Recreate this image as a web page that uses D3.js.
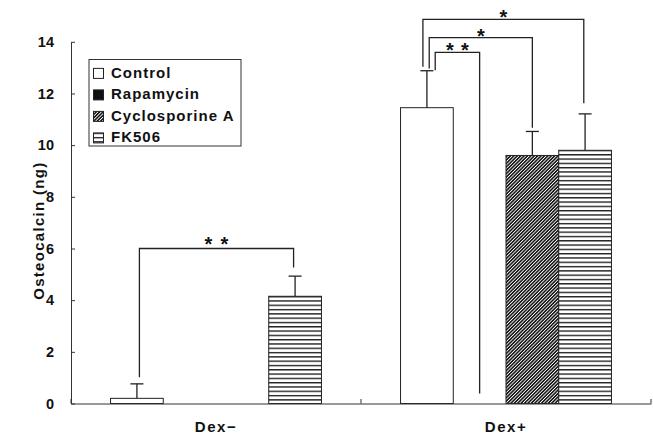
<!DOCTYPE html>
<html>
<head>
<meta charset="utf-8">
<script src="https://cdn.jsdelivr.net/npm/d3@7"></script>
<style>
  html, body { margin: 0; padding: 0; background: #fff; }
  svg { display: block; }
  text { font-family: "Liberation Sans", Arial, sans-serif; font-weight: bold; fill: #111; }
</style>
</head>
<body>
<svg id="chart" width="653" height="437"></svg>
<script>
// ---------- data ----------
const categories = ["Dex\u2212", "Dex+"];
const series = ["Control", "Rapamycin", "Cyclosporine A", "FK506"];
const dexMinusMeans = [0.2, 0, 0, 4.15];
const dexPlusMeans  = [11.45, 0, 9.6, 9.8];
const dexMinusErr   = [0.56, 0, 0, 0.78];
const dexPlusErr    = [1.43, 0, 0.93, 1.41];
const yTicks = [0, 2, 4, 6, 8, 10, 12, 14];
const yLabel = "Osteocalcin (ng)";
// significance brackets: group, from, to, bracket level, left leg end, right leg end, label
const brackets = [
  { group: "Dex\u2212", from: "Control", to: "FK506", level: 6.0,   leftEnd: 1.02,  rightEnd: 5.26,  label: "**" },
  { group: "Dex+", from: "Control", to: "FK506",           level: 14.87, leftEnd: 13.03, rightEnd: 11.62, label: "*" },
  { group: "Dex+", from: "Control", to: "Cyclosporine A",  level: 14.16, leftEnd: 12.97, rightEnd: 10.67, label: "*" },
  { group: "Dex+", from: "Control", to: "Rapamycin",       level: 13.59, leftEnd: 12.9,  rightEnd: 0.39,  label: "**" }
];

const rows = [
  { cat: categories[0], means: dexMinusMeans, errs: dexMinusErr },
  { cat: categories[1], means: dexPlusMeans,  errs: dexPlusErr }
];

// ---------- layout ----------
const svg = d3.select("#chart");
const mLeft = 71, mRight = 651, mBottom = 403.5, mTop = 41.8;

const x0 = d3.scaleBand().domain(categories).range([mLeft, mRight]).paddingInner(0).paddingOuter(0);
const x1 = d3.scaleBand().domain(series).range([0, x0.bandwidth()]).paddingInner(0).paddingOuter(0.75);
const y = d3.scaleLinear().domain([0, 14]).range([mBottom, mTop]);

// patterns
const defs = svg.append("defs");
const hatch = defs.append("pattern").attr("id", "hatch").attr("patternUnits", "userSpaceOnUse")
  .attr("width", 2.4).attr("height", 10).attr("patternTransform", "rotate(45)");
hatch.append("rect").attr("width", 2.4).attr("height", 10).attr("fill", "#fff");
hatch.append("line").attr("x1", 0.8).attr("x2", 0.8).attr("y1", 0).attr("y2", 10)
  .attr("stroke", "#1a1a1a").attr("stroke-width", 1.6);

const hlines = defs.append("pattern").attr("id", "hlines").attr("patternUnits", "userSpaceOnUse")
  .attr("width", 10).attr("height", 4.3).attr("y", mBottom);
hlines.append("rect").attr("width", 10).attr("height", 4.3).attr("fill", "#fff");
hlines.append("line").attr("x1", 0).attr("x2", 10).attr("y1", 0.7).attr("y2", 0.7)
  .attr("stroke", "#111").attr("stroke-width", 1.3);

const fills = {
  "Control": "#fff",
  "Rapamycin": "#111",
  "Cyclosporine A": "url(#hatch)",
  "FK506": "url(#hlines)"
};

// ---------- bars ----------
const g = svg.append("g");
rows.forEach(r => {
  series.forEach((s, i) => {
    const v = r.means[i];
    if (v <= 0) return;
    const bx = x0(r.cat) + x1(s);
    g.append("rect")
      .attr("x", bx).attr("y", y(v))
      .attr("width", x1.bandwidth()).attr("height", y(0) - y(v))
      .attr("fill", fills[s]).attr("stroke", "#222").attr("stroke-width", 1);
    const e = r.errs[i];
    if (e > 0) {
      const cx = bx + x1.bandwidth() / 2;
      g.append("line").attr("x1", cx).attr("x2", cx).attr("y1", y(v)).attr("y2", y(v + e))
        .attr("stroke", "#222").attr("stroke-width", 1.3);
      g.append("line").attr("x1", cx - 6.5).attr("x2", cx + 6.5).attr("y1", y(v + e)).attr("y2", y(v + e))
        .attr("stroke", "#222").attr("stroke-width", 1.3);
    }
  });
});

// ---------- brackets ----------
const legOffsets = { "Dex\u2212": [[2.5, -1.5]], "Dex+": [[-4, -1.3], [2.3, 0], [8.3, 0]] };
const groupCount = {};
brackets.forEach(b => {
  const k = groupCount[b.group] = (groupCount[b.group] || 0);
  groupCount[b.group]++;
  const off = legOffsets[b.group][k] || [0, 0];
  const xl = x0(b.group) + x1(b.from) + x1.bandwidth() / 2 + off[0];
  const xr = x0(b.group) + x1(b.to) + x1.bandwidth() / 2 + off[1];
  const yl = y(b.level);
  svg.append("path")
    .attr("d", `M${xl},${y(b.leftEnd)}V${yl}H${xr}V${y(b.rightEnd)}`)
    .attr("fill", "none").attr("stroke", "#222").attr("stroke-width", 1.3);
  const n = b.label.length;
  const cx = (xl + xr) / 2;
  const gap = b.group === categories[0] ? 16 : 15;
  const lift = b.group === categories[0] ? 3 : 5;
  for (let j = 0; j < n; j++) {
    svg.append("text")
      .attr("x", cx + (j - (n - 1) / 2) * gap)
      .attr("y", yl + lift)
      .attr("text-anchor", "middle")
      .style("font-size", "20px")
      .text("*");
  }
});

// ---------- axes ----------
const yAxis = d3.axisLeft(y).tickValues(yTicks).tickSizeInner(-4).tickSizeOuter(0).tickPadding(17);
const ya = svg.append("g").attr("transform", `translate(${mLeft},0)`).call(yAxis);
ya.select(".domain").attr("stroke", "#333");
ya.selectAll(".tick line").attr("stroke", "#333");
ya.selectAll(".tick text").style("font-size", "14.5px").attr("fill", "#111")
  .style("font-family", "'Liberation Sans', Arial, sans-serif").style("font-weight", "bold");

const xAxis = d3.axisBottom(x0).tickSize(0).tickPadding(18);
const xa = svg.append("g").attr("transform", `translate(0,${mBottom})`).call(xAxis);
xa.select(".domain").attr("stroke", "#333");
xa.selectAll(".tick text").style("font-size", "15px").style("letter-spacing", "1.5px")
  .attr("fill", "#111").style("font-family", "'Liberation Sans', Arial, sans-serif").style("font-weight", "bold");
// boundary ticks (inward)
const bounds = [x0(categories[0]), x0(categories[1]), x0(categories[1]) + x0.bandwidth()];
xa.selectAll(".btick").data(bounds).enter().append("line")
  .attr("x1", d => d).attr("x2", d => d).attr("y1", 0).attr("y2", -4.5)
  .attr("stroke", "#333");

// y label
svg.append("text")
  .attr("transform", `translate(44,${(mTop + mBottom) / 2 + 8}) rotate(-90)`)
  .attr("text-anchor", "middle")
  .style("font-size", "15px").style("letter-spacing", "1.3px")
  .text(yLabel);

// ---------- legend ----------
const lg = svg.append("g");
lg.append("rect").attr("x", 89).attr("y", 59.5).attr("width", 152).attr("height", 86.5)
  .attr("fill", "#fff").attr("stroke", "#333").attr("stroke-width", 1);
series.forEach((s, i) => {
  const by = 77.7 + i * 21.5;
  lg.append("rect").attr("x", 93.5).attr("y", by - 9.3).attr("width", 10).attr("height", 10)
    .attr("fill", fills[s]).attr("stroke", "#222").attr("stroke-width", 1);
  lg.append("text").attr("x", 111).attr("y", by)
    .style("font-size", "15px").style("letter-spacing", "1px")
    .text(s);
});
</script>
</body>
</html>
